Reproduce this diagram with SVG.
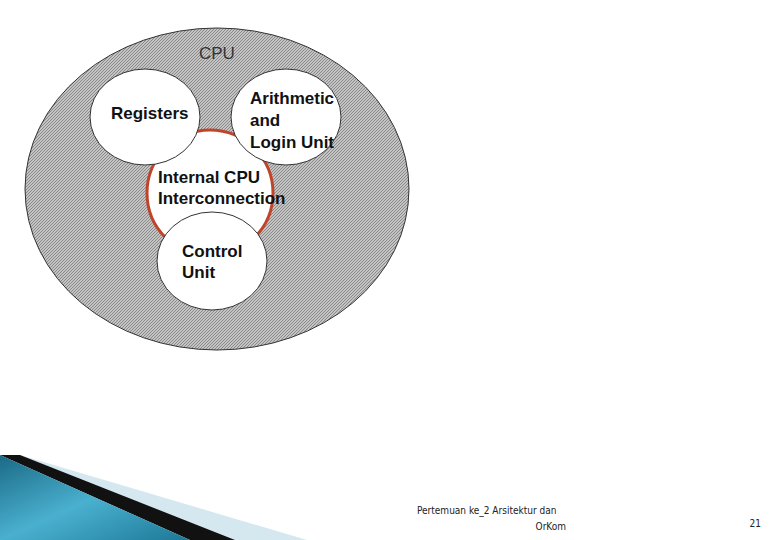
<svg xmlns="http://www.w3.org/2000/svg" width="780" height="540" viewBox="0 0 780 540">
<defs>
<pattern id="hatch" width="3" height="3" patternUnits="userSpaceOnUse">
<rect width="3" height="3" fill="#c4c4c4"/>
<path d="M0,3 L3,0" stroke="#7a7a7a" stroke-width="0.8"/>
</pattern>
<linearGradient id="blue" x1="0" y1="0" x2="1" y2="1">
<stop offset="0" stop-color="#1a6a86"/>
<stop offset="0.5" stop-color="#4ab0cf"/>
<stop offset="1" stop-color="#1d7897"/>
</linearGradient>
<style>
.t{font-family:"Liberation Sans",Arial,sans-serif;font-size:17px;font-weight:bold;fill:#111}
.w{fill:#fff;stroke:#333;stroke-width:1}
.f{font-family:"DejaVu Sans Condensed","Liberation Sans",sans-serif;font-size:10px;fill:#222}
</style>
</defs>
<rect width="780" height="540" fill="#fff"/>
<g id="cpu">
<ellipse cx="217" cy="189" rx="192" ry="161" fill="url(#hatch)" stroke="#333"/>
<text class="t" x="199" y="59" style="font-weight:normal;fill:#333">CPU</text>
</g>
<g id="internal">
<circle cx="210" cy="193" r="63" fill="#fff" stroke="#c0442a" stroke-width="3"/>
</g>
<g id="registers">
<ellipse class="w" cx="145" cy="117" rx="55" ry="48"/>
<text class="t" x="111" y="119">Registers</text>
</g>
<g id="alu">
<ellipse class="w" cx="286" cy="117" rx="55" ry="48"/>
<text class="t" x="250" y="104">Arithmetic</text>
<text class="t" x="250" y="126">and</text>
<text class="t" x="250" y="148">Login Unit</text>
</g>
<g id="control">
<ellipse class="w" cx="212" cy="261" rx="55" ry="49"/>
<text class="t" x="182" y="257">Control</text>
<text class="t" x="182" y="278">Unit</text>
</g>
<text class="t" x="158" y="183">Internal CPU</text>
<text class="t" x="158" y="204">Interconnection</text>
<g id="connectors"></g>
<g id="footer">
<polygon points="20,455 307,540 230,540" fill="#d6e8ef"/>
<polygon points="0,455 20,455 235,540 190,540" fill="#111"/>
<polygon points="0,455 190,540 0,540" fill="url(#blue)"/>
<text class="f" x="417" y="514">Pertemuan ke_2 Arsitektur dan</text>
<text class="f" x="566" y="530" text-anchor="end">OrKom</text>
<text class="f" x="761" y="527" text-anchor="end">21</text>
</g>
</svg>
